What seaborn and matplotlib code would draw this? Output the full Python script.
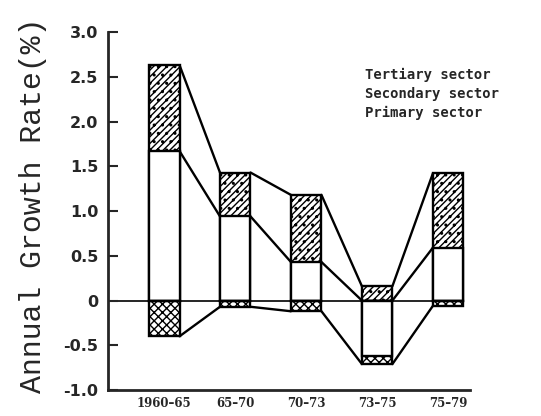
import matplotlib
matplotlib.use("Agg")
import matplotlib.pyplot as plt
import numpy as np
import pandas as pd
import seaborn as sns

sns.set_style("white")
sns.set_style("ticks")
plt.rcParams['hatch.linewidth'] = 1.0

periods = ["1960–65", "65–70", "70–73", "73–75", "75–79"]
primary = [-0.40, -0.07, -0.12, -0.09, -0.06]
secondary = [1.67, 0.94, 0.43, -0.62, 0.59]
tertiary = [0.96, 0.49, 0.75, 0.16, 0.83]
sector_names = ["Tertiary sector", "Secondary sector", "Primary sector"]
ytick_vals = [-1.0, -0.5, 0, 0.5, 1.0, 1.5, 2.0, 2.5, 3.0]

sec = np.array(secondary)
pos_sec = np.clip(sec, 0, None)
neg_sec = np.clip(sec, None, 0)
top = pos_sec + np.array(tertiary)
bottom = neg_sec + np.array(primary)

df = pd.DataFrame(dict(period=periods, top=top, pos_sec=pos_sec,
                       bottom=bottom, neg_sec=neg_sec))

fig = plt.figure(figsize=(5.41, 4.16), dpi=100)
ax = fig.add_axes([0.2, 0.0625, 0.669, 0.8605])

w = 0.43
x_left = -0.79
bar_kw = dict(x="period", order=periods, width=w, edgecolor="black",
              linewidth=1.7, ax=ax)
# zero line runs from the axis to the last bar
ax.plot([x_left, len(periods) - 1 - w / 2], [0, 0], color="black", lw=1.2, zorder=0)
sns.barplot(data=df, y="top", color="white", hatch="/////..", **bar_kw)
sns.barplot(data=df, y="pos_sec", color="white", **bar_kw)
sns.barplot(data=df, y="bottom", color="white", hatch="xxxx", **bar_kw)
sns.barplot(data=df, y="neg_sec", color="white", **bar_kw)

# connecting lines between neighbouring bars
for level in (top, pos_sec, bottom):
    for i in range(len(periods) - 1):
        ax.plot([i + w / 2, i + 1 - w / 2], [level[i], level[i + 1]],
                color="black", lw=1.7, zorder=3)

ax.set_xlim(x_left, 4.31)
ax.set_ylim(-1.0, 3.0)
ax.set_yticks(ytick_vals)
ax.set_yticklabels(["%.1f" % v if v != 0 else "0" for v in ytick_vals],
                   fontsize=11.5, fontweight="bold", family="DejaVu Sans")
ax.set_xticks(range(len(periods)))
ax.set_xticklabels(periods, fontsize=8.5, fontweight="bold", family="DejaVu Serif")
ax.tick_params(axis="y", direction="in", length=7, width=1.5, pad=7)
ax.tick_params(axis="x", length=0, pad=5)
ax.set_xlabel("")
ax.set_ylabel("Annual Growth Rate(%)", family="Liberation Mono", fontsize=21.5)
ax.yaxis.set_label_coords(-0.17, 0.515)
sns.despine(ax=ax)
ax.spines["left"].set_linewidth(2)
ax.spines["bottom"].set_linewidth(2)

for k, name in enumerate(sector_names):
    ax.text(0.71, 0.88 - k * 0.053, name, transform=ax.transAxes,
            family="DejaVu Sans Mono", fontweight="bold", fontsize=10,
            ha="left", va="center")

plt.savefig("out.png", dpi=100)
